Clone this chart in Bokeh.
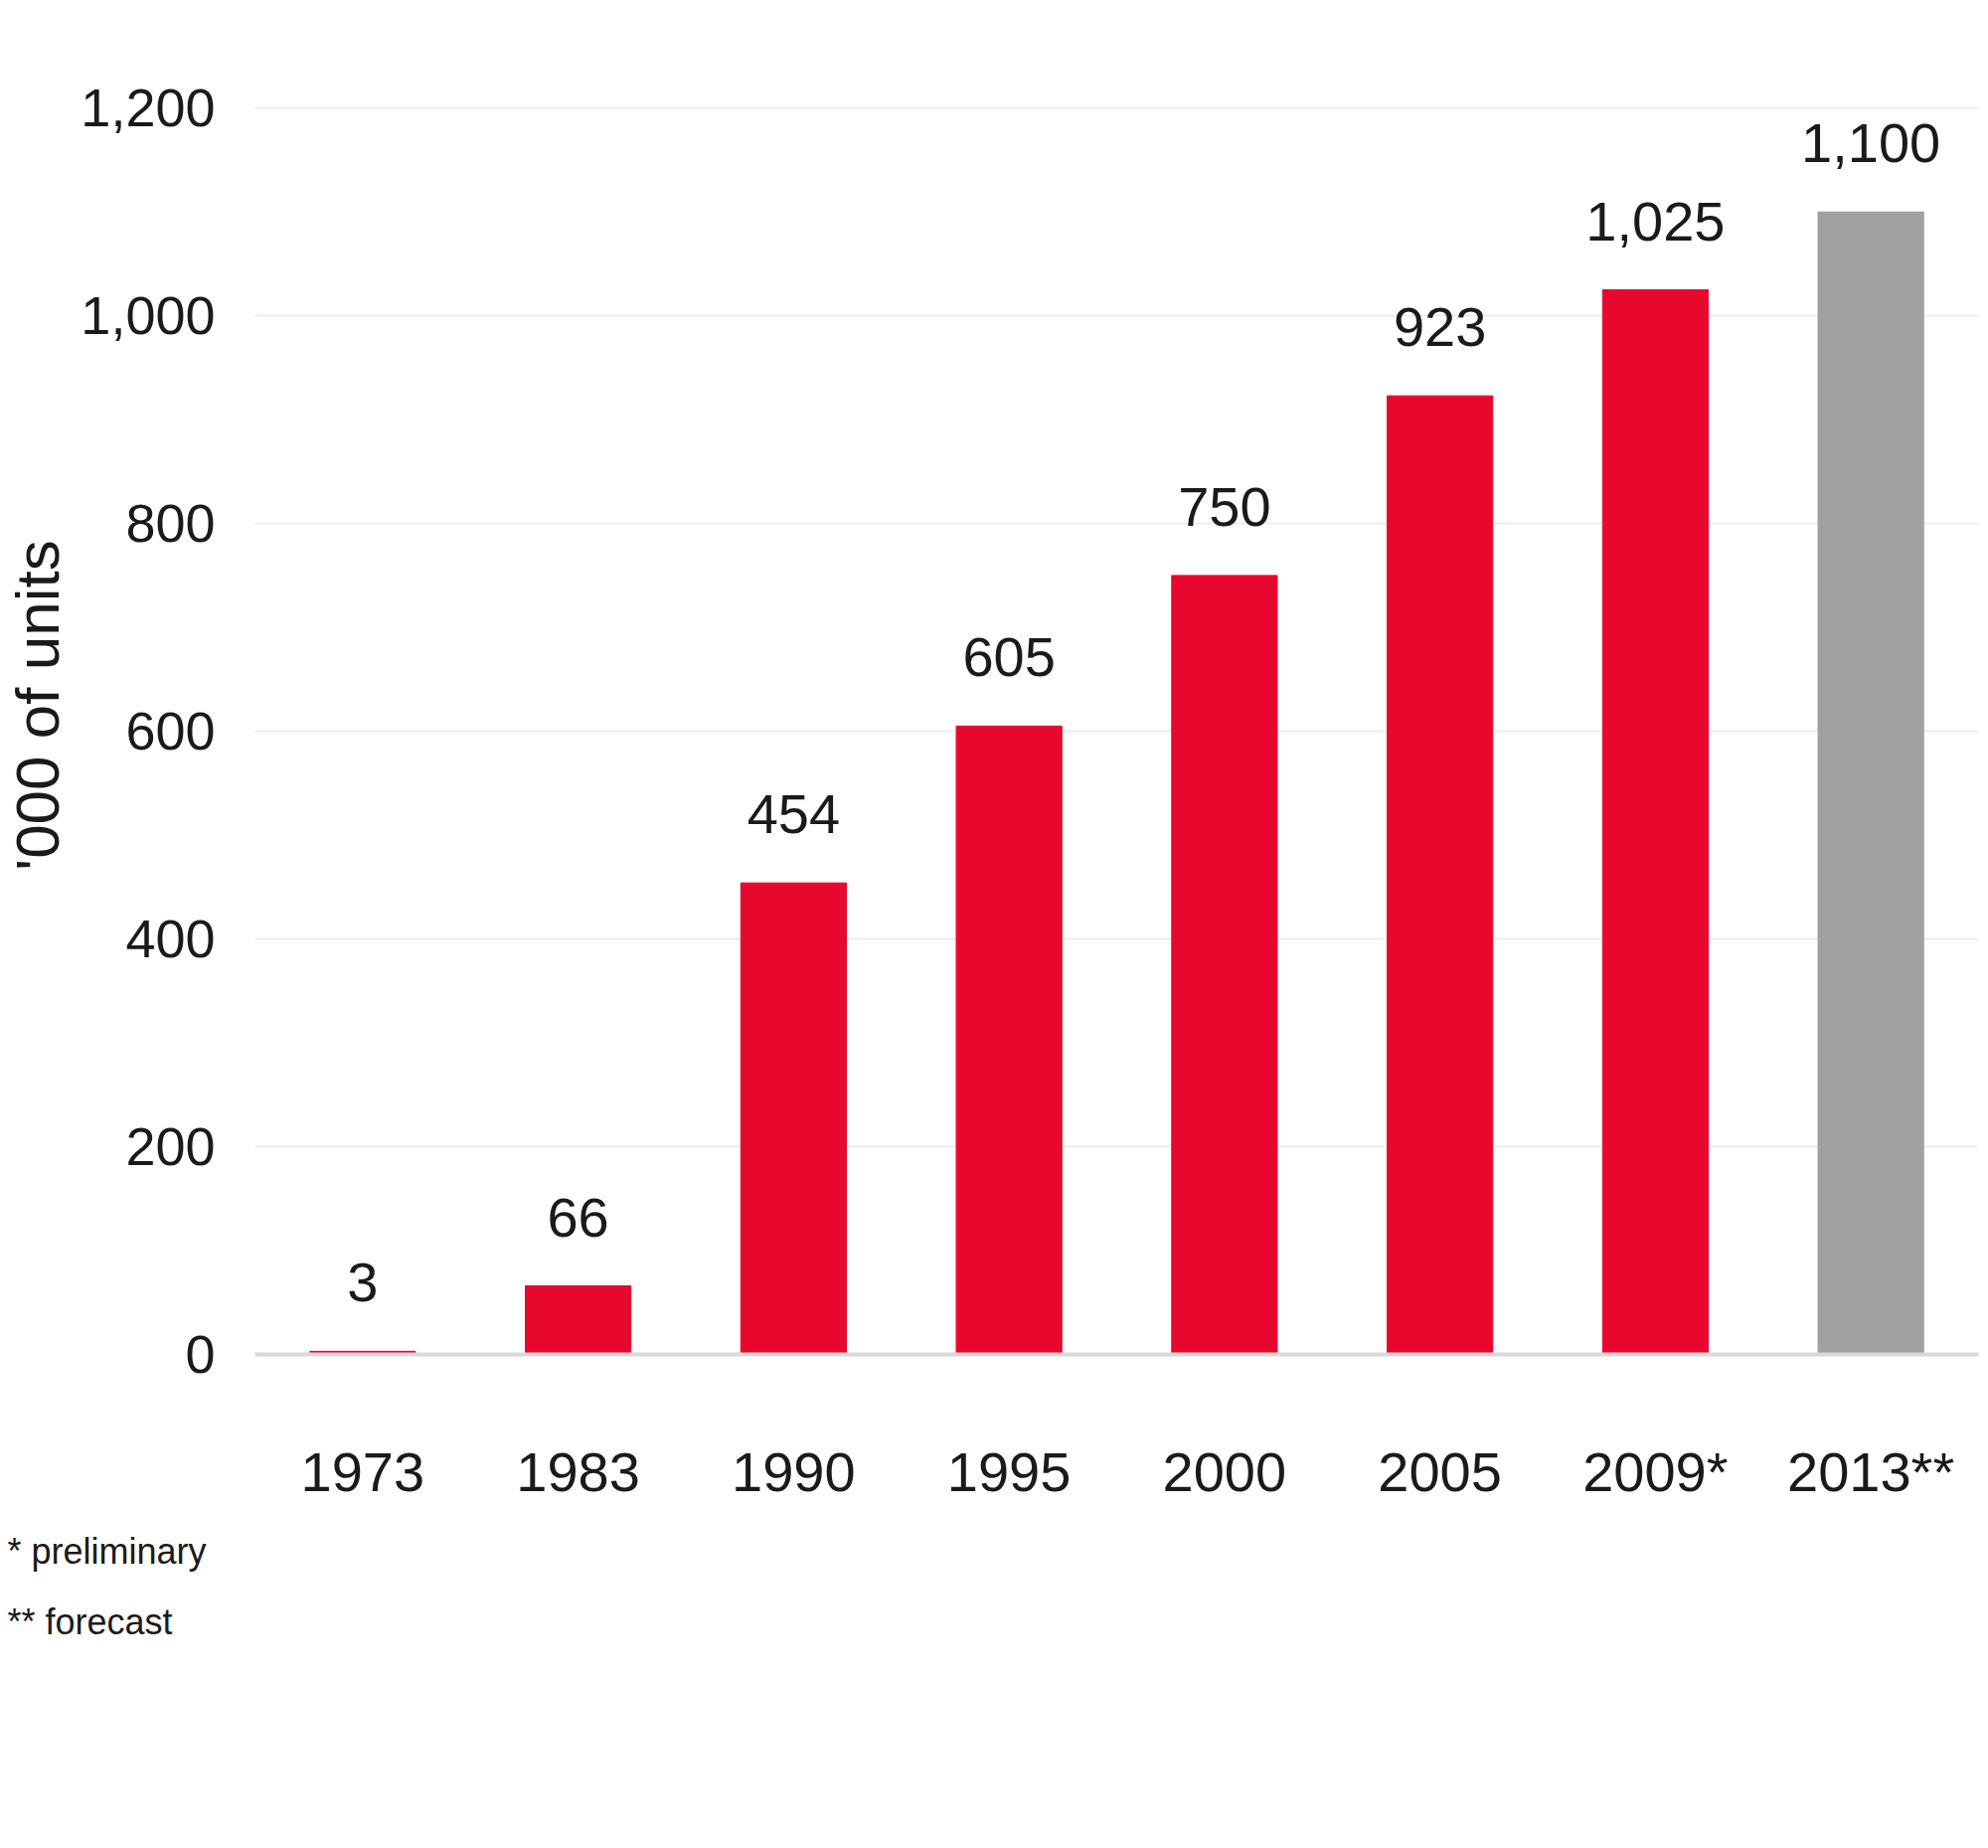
from bokeh.core.properties import value
from bokeh.embed import file_html
from bokeh.models import (ColumnDataSource, FactorRange, FixedTicker,
                          LabelSet, NumeralTickFormatter, Range1d, Title)
from bokeh.plotting import figure
from bokeh.resources import INLINE

# Units in thousands per year
years = ["1973", "1983", "1990", "1995", "2000", "2005", "2009*", "2013**"]
units = [3, 66, 454, 605, 750, 923, 1025, 1100]
kind = ["actual", "actual", "actual", "actual", "actual", "actual", "actual", "forecast"]
y_ticks = [0, 200, 400, 600, 800, 1000, 1200]
footnotes = ["* preliminary", "** forecast"]
y_title = "'000 of units"

RED = "#E8082D"
GREY = "#A0A0A0"
INK = "#1a1a1a"
FONT = "Liberation Sans"
SIZE = "56px"
TICK_SIZE = "54px"

colors = [RED if k == "actual" else GREY for k in kind]
source = ColumnDataSource(dict(
    year=years,
    value=units,
    color=colors,
    label=[f"{v:,}" for v in units],
))

p = figure(
    width=2000, height=1859,
    x_range=FactorRange(*years, range_padding=0),
    y_range=Range1d(0, 1250),
    min_border_left=255, min_border_right=10,
    min_border_top=56, min_border_bottom=497,
    output_backend="svg", toolbar_location=None,
)
p.outline_line_color = None
p.background_fill_color = "white"
p.border_fill_color = "white"

p.vbar(x="year", top="value", width=0.49, color="color", source=source)

p.add_layout(LabelSet(
    x="year", y="value", text="label", source=source,
    y_offset=50, text_align="center", text_baseline="alphabetic",
    text_font=value(FONT), text_font_size=value(SIZE), text_color=value(INK),
))

# y axis with its rotated title
p.yaxis.ticker = FixedTicker(ticks=y_ticks)
p.yaxis.formatter = NumeralTickFormatter(format="0,0")
p.yaxis.axis_line_color = None
p.yaxis.major_tick_line_color = None
p.yaxis.minor_tick_line_color = None
p.yaxis.major_label_standoff = 34
p.yaxis.major_label_text_font = FONT
p.yaxis.major_label_text_font_size = TICK_SIZE
p.yaxis.major_label_text_color = INK
p.yaxis.axis_label = y_title
p.yaxis.axis_label_standoff = 6
p.yaxis.axis_label_text_font = FONT
p.yaxis.axis_label_text_font_size = "62px"
p.yaxis.axis_label_text_font_style = "normal"
p.yaxis.axis_label_text_color = INK

p.ygrid.grid_line_color = "#eeeeee"
p.ygrid.grid_line_width = 2
p.xgrid.grid_line_color = None

# x axis doubles as the zero baseline
p.xaxis.axis_line_color = "#d9d9d9"
p.xaxis.axis_line_width = 4
p.xaxis.major_tick_line_color = None
p.xaxis.minor_tick_line_color = None
p.xaxis.major_label_standoff = 80
p.xaxis.major_label_text_font = FONT
p.xaxis.major_label_text_font_size = SIZE
p.xaxis.major_label_text_color = INK

# footnotes under the chart, flush with the page's left edge
for i, note in enumerate(footnotes):
    p.add_layout(Title(
        text=note, align="left", offset=-249,
        standoff=46 if i == 0 else 10,
        text_font=FONT, text_font_size="36px", text_font_style="normal",
        text_color=INK,
    ), "below")

open("out.html", "w").write(file_html(p, INLINE))
